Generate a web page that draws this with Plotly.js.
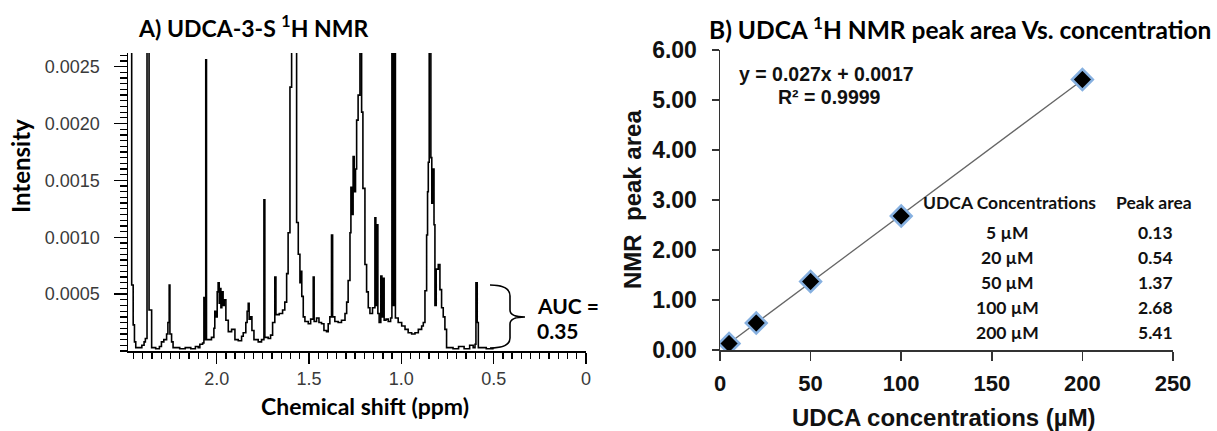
<!DOCTYPE html>
<html>
<head>
<meta charset="utf-8">
<script src="https://cdn.plot.ly/plotly-3.0.1.min.js"></script>
<style>html,body{margin:0;padding:0;background:#fff;}#chart{width:1217px;height:431px;}</style>
</head>
<body>
<div id="chart"></div>
<script>
// ---- Panel A: 1H NMR spectrum of UDCA-3-S ----
const ppm = [2.478,2.460,2.452,2.445,2.438,2.420,2.405,2.393,2.386,2.377,2.366,2.352,2.330,2.310,2.299,2.286,2.271,2.264,2.257,2.253,2.244,2.236,2.200,2.170,2.140,2.115,2.100,2.091,2.076,2.069,2.064,2.059,2.055,2.046,2.028,2.015,2.010,2.004,1.997,1.992,1.986,1.983,1.977,1.972,1.965,1.959,1.950,1.937,1.919,1.901,1.883,1.865,1.856,1.842,1.835,1.829,1.824,1.816,1.809,1.798,1.775,1.757,1.744,1.739,1.721,1.708,1.697,1.685,1.679,1.661,1.643,1.631,1.621,1.613,1.603,1.594,1.567,1.558,1.549,1.544,1.539,1.531,1.522,1.504,1.491,1.477,1.472,1.459,1.446,1.432,1.419,1.405,1.396,1.387,1.378,1.372,1.360,1.342,1.324,1.305,1.296,1.288,1.278,1.273,1.267,1.261,1.255,1.248,1.242,1.234,1.224,1.215,1.208,1.197,1.188,1.179,1.170,1.156,1.143,1.138,1.134,1.127,1.120,1.111,1.105,1.098,1.093,1.083,1.071,1.058,1.051,1.046,1.044,1.039,1.037,1.032,1.017,0.998,0.980,0.963,0.944,0.926,0.908,0.890,0.881,0.872,0.863,0.858,0.854,0.849,0.840,0.835,0.830,0.823,0.818,0.811,0.800,0.791,0.782,0.773,0.764,0.755,0.720,0.690,0.660,0.630,0.611,0.601,0.596,0.589,0.583,0.540,0.500];
const intensity = [0.0040,0.00058,0.00023,0.00008,0.00003,0.00003,0.00005,0.00008,0.00011,0.0040,0.00036,0.00003,0.00002,0.00004,0.00008,0.00010,0.00015,0.00025,0.00058,0.00015,0.00008,0.00003,0.00002,0.00003,0.00002,0.00004,0.00003,0.00006,0.00007,0.00047,0.00010,0.00256,0.00010,0.00010,0.00012,0.00020,0.00035,0.00030,0.00052,0.00060,0.00042,0.00055,0.00038,0.00052,0.00040,0.00045,0.00027,0.00017,0.00019,0.00010,0.00009,0.00013,0.00016,0.00025,0.00035,0.00042,0.00028,0.00030,0.00018,0.00010,0.00008,0.00010,0.00133,0.00012,0.00011,0.00014,0.00025,0.00065,0.00032,0.00033,0.00036,0.00043,0.00068,0.00104,0.00232,0.0040,0.00113,0.00085,0.00060,0.00070,0.00048,0.00030,0.00026,0.00024,0.00028,0.00065,0.00026,0.00029,0.00025,0.00024,0.00018,0.00017,0.00024,0.00030,0.00102,0.00030,0.00026,0.00025,0.00027,0.00033,0.00043,0.00062,0.00104,0.00144,0.00120,0.00171,0.00140,0.00160,0.00203,0.00225,0.0040,0.00210,0.00143,0.00076,0.00052,0.00038,0.00033,0.00038,0.00117,0.00040,0.00111,0.00033,0.00025,0.00066,0.00030,0.00064,0.00027,0.00028,0.00026,0.00029,0.0040,0.00040,0.0040,0.00040,0.0040,0.00029,0.00025,0.00022,0.00019,0.00016,0.00015,0.00016,0.00019,0.00022,0.00025,0.00053,0.00102,0.00140,0.00166,0.0040,0.00170,0.00130,0.00160,0.00111,0.00040,0.00072,0.00076,0.00054,0.00038,0.00030,0.00019,0.00003,0.00002,0.00004,0.00002,0.00005,0.00003,0.00006,0.00060,0.00025,0.00003,0.00002,0.00002];
const shiftTickVals = [2.0, 1.5, 1.0, 0.5, 0];
const shiftTickText = ['2.0', '1.5', '1.0', '0.5', '0'];
const intensityTickVals = [0.0005, 0.0010, 0.0015, 0.0020, 0.0025];
const intensityTickText = ['0.0005', '0.0010', '0.0015', '0.0020', '0.0025'];
const aucLabel = ['AUC =', '0.35'];

// ---- Panel B: calibration ----
const concentrations = [5, 20, 50, 100, 200];
const peakAreas = [0.13, 0.54, 1.37, 2.68, 5.41];
const fitSlope = 0.027;
const fitIntercept = 0.0017;
const fitR2 = '0.9999';

const W = 1217, H = 431;
const PX = x => x / W;
const PY = y => 1 - y / H;

const calibri = 'Lato, Carlito, Calibri, sans-serif';
const arial = 'Liberation Sans, Arial, sans-serif';

const fitX = [concentrations[0], concentrations[concentrations.length - 1]];
const fitY = fitX.map(v => fitSlope * v + fitIntercept);

const traces = [
  {x: ppm, y: intensity, xaxis: 'x', yaxis: 'y', mode: 'lines', type: 'scatter',
   line: {color: '#000', width: 1.6, shape: 'hv'}, hoverinfo: 'skip'},
  {x: fitX, y: fitY, xaxis: 'x2', yaxis: 'y2', mode: 'lines', type: 'scatter',
   line: {color: '#666', width: 1.3}},
  {x: concentrations, y: peakAreas, xaxis: 'x2', yaxis: 'y2', mode: 'markers', type: 'scatter',
   marker: {symbol: 'diamond', size: 16, color: '#000', line: {color: '#86b0e0', width: 2.5}}}
];

const ann = [];
function txt(x, y, text, font, extra) {
  ann.push(Object.assign({xref: 'paper', yref: 'paper', x: PX(x), y: PY(y), text: text,
    showarrow: false, xanchor: 'center', yanchor: 'middle', font: font}, extra || {}));
}
txt(253, 27, 'A) UDCA-3-S <sup>1</sup>H NMR', {family: calibri, size: 23, color: '#000', weight: 'bold'});
txt(960, 28, 'B) UDCA <sup>1</sup>H NMR peak area Vs. concentration', {family: calibri, size: 24.5, color: '#000', weight: 'bold'});
txt(21, 166, 'Intensity', {family: calibri, size: 24, color: '#000', weight: 'bold'}, {textangle: -90});
txt(365, 406, 'Chemical shift (ppm)', {family: calibri, size: 23, color: '#000', weight: 'bold'});
txt(632, 200, 'NMR  peak area', {family: arial, size: 24, color: '#111', weight: 'bold'}, {textangle: -90});
txt(944, 417, 'UDCA concentrations (µM)', {family: arial, size: 24, color: '#111', weight: 'bold'});
txt(826, 74, 'y = ' + fitSlope + 'x + ' + fitIntercept,
    {family: arial, size: 19.5, color: '#111', weight: 'bold'});
txt(829, 97, 'R² = ' + fitR2, {family: arial, size: 19.5, color: '#111', weight: 'bold'});
txt(535, 305, aucLabel[0], {family: calibri, size: 21, color: '#000', weight: 'bold'}, {xanchor: 'left'});
txt(535, 330, aucLabel[1], {family: calibri, size: 21, color: '#000', weight: 'bold'}, {xanchor: 'left'});

// table
const tfont = {family: calibri, size: 17.5, color: '#111', weight: 'bold'};
txt(1009, 203, 'UDCA Concentrations', tfont);
txt(1154, 203, 'Peak area', tfont);
concentrations.forEach((c, i) => {
  txt(1007, 232 + i * 25, c + ' µM', tfont);
  txt(1155, 232 + i * 25, peakAreas[i].toFixed(2), tfont);
});

// brace for AUC
const bp = [[490,285],[510,285],[510,296],[510,310],[510,317],[525,317],[510,317],[510,324],[510,338],[510,348],[490,348]];
const P = p => PX(p[0]).toFixed(5) + ',' + PY(p[1]).toFixed(5);
const bracePath = 'M' + P(bp[0]) + ' Q' + P(bp[1]) + ' ' + P(bp[2]) + ' L' + P(bp[3]) +
  ' Q' + P(bp[4]) + ' ' + P(bp[5]) + ' Q' + P(bp[6]) + ' ' + P(bp[7]) + ' L' + P(bp[8]) +
  ' Q' + P(bp[9]) + ' ' + P(bp[10]);

const layout = {
  width: W, height: H,
  margin: {l: 0, r: 0, t: 0, b: 0},
  paper_bgcolor: '#fff', plot_bgcolor: '#fff',
  showlegend: false,
  xaxis: {domain: [PX(128), PX(586)], range: [2.48, 0], anchor: 'y',
    showline: true, linecolor: '#000', linewidth: 1.5, showgrid: false, zeroline: false,
    ticks: 'outside', ticklen: 11, tickwidth: 1.5, tickcolor: '#000',
    tickmode: 'array', tickvals: shiftTickVals, ticktext: shiftTickText,
    tickfont: {family: arial, size: 18, color: '#3a3a3a'},
    minor: {dtick: 0.05, tick0: 0, ticks: 'outside', ticklen: 6, tickwidth: 1.3, tickcolor: '#000', showgrid: false}},
  yaxis: {domain: [PY(351), PY(53)], range: [0, 0.00262], anchor: 'x',
    showline: true, linecolor: '#000', linewidth: 1.5, showgrid: false, zeroline: false,
    ticks: 'outside', ticklen: 13, tickwidth: 1.5, tickcolor: '#000',
    tickmode: 'array', tickvals: intensityTickVals, ticktext: intensityTickText,
    ticklabelstandoff: 10,
    tickfont: {family: arial, size: 18, color: '#3a3a3a'},
    minor: {dtick: 0.00005, tick0: 0, ticks: 'outside', ticklen: 7, tickwidth: 1.3, tickcolor: '#000', showgrid: false}},
  xaxis2: {domain: [PX(720), PX(1173)], range: [0, 250], anchor: 'y2',
    showline: true, linecolor: '#333', linewidth: 1.5, showgrid: false, zeroline: false,
    ticks: 'outside', ticklen: 9, tickwidth: 1.5, tickcolor: '#333', dtick: 50, tick0: 0,
    ticklabelstandoff: 4,
    tickfont: {family: arial, size: 22, color: '#111', weight: 'bold'}},
  yaxis2: {domain: [PY(350), PY(50)], range: [0, 6], anchor: 'x2',
    showline: true, linecolor: '#333', linewidth: 1.5, showgrid: false, zeroline: false,
    ticks: 'outside', ticklen: 7, tickwidth: 1.5, tickcolor: '#333', dtick: 1, tick0: 0,
    tickformat: '.2f', ticklabelstandoff: 10,
    tickfont: {family: arial, size: 23, color: '#111', weight: 'bold'}},
  annotations: ann,
  shapes: [{type: 'path', xref: 'paper', yref: 'paper', path: bracePath,
    line: {color: '#000', width: 1.6}}]
};

Plotly.newPlot('chart', traces, layout, {staticPlot: true, displayModeBar: false});
</script>
</body>
</html>
